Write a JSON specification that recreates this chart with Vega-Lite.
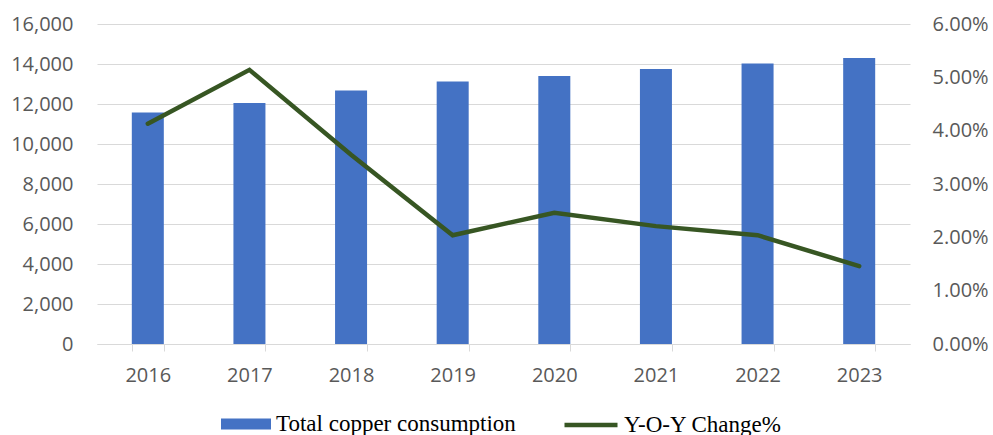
{
  "$schema": "https://vega.github.io/schema/vega-lite/v6.json",
  "width": 813,
  "height": 320,
  "autosize": {"type": "none"},
  "padding": {"left": 97, "top": 24, "right": 83, "bottom": 91},
  "background": "white",
  "config": {
    "view": {"stroke": null},
    "axis": {"labelFont": "Open Sans", "labelFontSize": 20, "labelColor": "#595959", "title": null, "gridColor": "#D9D9D9", "gridWidth": 1},
    "legend": {"labelFont": "Liberation Serif", "labelFontSize": 23, "labelColor": "#000000", "title": null, "padding": 0, "labelLimit": 0}
  },
  "data": {
    "values": [
      {"year": "2016", "consumption": 11570, "yoy": 0.0413},
      {"year": "2017", "consumption": 12050, "yoy": 0.0514},
      {"year": "2018", "consumption": 12680, "yoy": 0.0355},
      {"year": "2019", "consumption": 13120, "yoy": 0.0204},
      {"year": "2020", "consumption": 13400, "yoy": 0.0246},
      {"year": "2021", "consumption": 13750, "yoy": 0.0221},
      {"year": "2022", "consumption": 14020, "yoy": 0.0204},
      {"year": "2023", "consumption": 14300, "yoy": 0.0146}
    ]
  },
  "encoding": {
    "x": {
      "field": "year",
      "type": "ordinal",
      "scale": {"paddingInner": 0.685, "paddingOuter": 0.3425},
      "axis": {
        "labelAngle": 0,
        "tickBand": "extent",
        "tickSize": 7,
        "tickColor": "#D9D9D9",
        "domainColor": "#D9D9D9",
        "domainWidth": 1,
        "labelPadding": 14,
        "grid": false
      }
    }
  },
  "layer": [
    {
      "mark": {"type": "bar", "color": "#4472C4"},
      "encoding": {
        "y": {
          "field": "consumption",
          "type": "quantitative",
          "scale": {"domain": [0, 16000], "nice": false},
          "axis": {
            "orient": "left",
            "values": [0, 2000, 4000, 6000, 8000, 10000, 12000, 14000, 16000],
            "format": ",.0f",
            "domain": false,
            "ticks": false,
            "labelPadding": 24,
            "grid": true
          }
        },
        "fill": {
          "datum": "Total copper consumption",
          "type": "nominal",
          "scale": {"range": ["#4472C4"]},
          "legend": {
            "orient": "none",
            "legendX": 124,
            "legendY": 375,
            "symbolType": "M-1,-0.22H1V0.22H-1Z",
            "symbolSize": 2500,
            "symbolOpacity": 1,
            "symbolStrokeWidth": 0,
            "labelOffset": 5,
            "labelLimit": 0
          }
        }
      }
    },
    {
      "mark": {"type": "line", "strokeWidth": 4.5, "strokeCap": "round", "strokeJoin": "miter"},
      "encoding": {
        "y": {
          "field": "yoy",
          "type": "quantitative",
          "scale": {"domain": [0, 0.06], "nice": false},
          "axis": {
            "orient": "right",
            "values": [0, 0.01, 0.02, 0.03, 0.04, 0.05, 0.06],
            "format": ".2%",
            "domain": false,
            "ticks": false,
            "labelPadding": 22,
            "grid": false
          }
        },
        "stroke": {
          "datum": "Y-O-Y Change%",
          "type": "nominal",
          "scale": {"range": ["#375623"]},
          "legend": {
            "orient": "none",
            "legendX": 465,
            "legendY": 372,
            "symbolType": "stroke",
            "symbolSize": 2809,
            "symbolStrokeWidth": 4.5,
            "labelOffset": 4,
            "labelLimit": 0
          }
        }
      }
    }
  ],
  "resolve": {"scale": {"y": "independent"}}
}
